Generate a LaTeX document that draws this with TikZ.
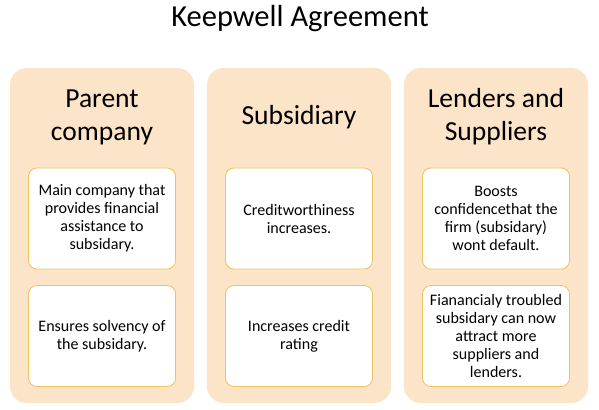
\documentclass[tikz,border=0pt]{standalone}
\usepackage{fontspec}
\setmainfont{Carlito}
\usepackage{tikz}
\usetikzlibrary{positioning}
\definecolor{peach}{RGB}{252,228,200}
\definecolor{gold}{RGB}{238,196,96}

\begin{document}
\begin{tikzpicture}[x=0.025cm, y=-0.025cm,
  panel/.style={fill=peach, draw=none, rounded corners=12pt,
    minimum width=4.6cm, minimum height=8.375cm, inner sep=0pt},
  head/.style={align=center, font=\fontsize{19.6}{23.5}\selectfont},
  card/.style={draw=gold, line width=0.6pt, fill=white, rounded corners=6pt,
    minimum width=3.675cm, minimum height=2.525cm,
    align=center, inner sep=0pt, font=\fontsize{11.4}{12.8}\selectfont}
]
  \useasboundingbox (0,0) rectangle (599,409);
  \node[font=\fontsize{21.7}{26}\selectfont] (title) at (300,19) {Keepwell Agreement};
  % panels
  \node[panel] (pparent) at (102,235.5) {};
  \node[panel] (psub) at (299,235.5) {};
  \node[panel] (plend) at (496,235.5) {};
  % headings
  \node[head] (hparent) at (102,117) {Parent\\company};
  \node[head] (hsub) at (299,117) {Subsidiary};
  \node[head] (hlend) at (496,117) {Lenders and\\Suppliers};
  % cards
  \node[card] (parent1) at (102,218.5) {Main company that\\provides financial\\assistance to\\subsidary.};
  \node[card] (parent2) at (102,336) {Ensures solvency of\\the subsidary.};
  \node[card] (sub1) at (299,218.5) {Creditworthiness\\increases.};
  \node[card] (sub2) at (299,336) {Increases credit\\rating};
  \node[card] (lend1) at (496,218.5) {Boosts\\confidencethat the\\firm (subsidary)\\wont default.};
  \node[card] (lend2) at (496,336) {Fianancialy troubled\\subsidary can now\\attract more\\suppliers and\\lenders.};
\end{tikzpicture}
\end{document}
